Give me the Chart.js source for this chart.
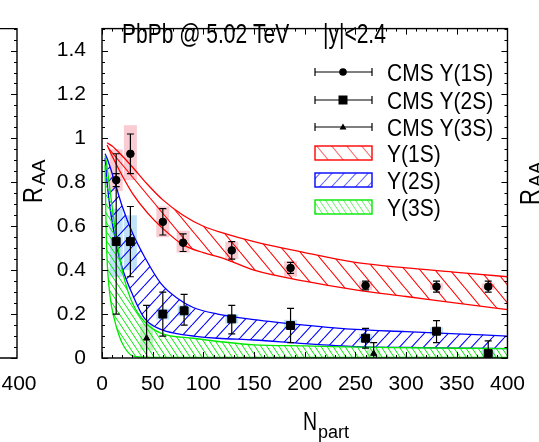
<!DOCTYPE html>
<html><head><meta charset="utf-8">
<script src="https://cdn.jsdelivr.net/npm/chart.js@4/dist/chart.umd.min.js"></script>
<style>html,body{margin:0;padding:0;background:#fff;}#wrap{width:539px;height:442px;}</style>
</head><body><div id="wrap"><canvas id="c" width="539" height="442"></canvas></div>
<script>
const FONT = '"Liberation Sans", Arial, sans-serif';

// ---- tick labels ----
const xTicks = [0, 50, 100, 150, 200, 250, 300, 350, 400];
const yTicks = [0, 0.2, 0.4, 0.6, 0.8, 1, 1.2, 1.4];

// ---- CMS data: Y(1S) ----
const npart1S  = [14, 28, 60, 80, 128, 186, 260, 330, 381];
const raa1S    = [0.81, 0.93, 0.62, 0.525, 0.49, 0.41, 0.33, 0.325, 0.325];
const stat1SLo = [0.78, 0.84, 0.56, 0.485, 0.45, 0.385, 0.31, 0.30, 0.30];
const stat1SHi = [0.84, 1.02, 0.68, 0.565, 0.53, 0.435, 0.35, 0.35, 0.35];
const sys1SLo  = [0.76, 0.81, 0.55, 0.48, 0.45, 0.37, 0.31, 0.31, 0.31];
const sys1SHi  = [0.95, 1.06, 0.69, 0.58, 0.53, 0.44, 0.35, 0.34, 0.34];

// ---- CMS data: Y(2S) ----
const npart2S  = [14, 28, 60, 81, 128, 186, 260, 330, 381];
const raa2S    = [0.53, 0.53, 0.20, 0.215, 0.178, 0.148, 0.09, 0.122, 0.02];
const stat2SLo = [0.20, 0.37, 0.10, 0.15, 0.11, 0.07, 0.045, 0.07, -0.01];
const stat2SHi = [0.93, 0.69, 0.30, 0.29, 0.24, 0.226, 0.135, 0.17, 0.078];
const sys2SLo  = [0.37, 0.40, 0.175, 0.19, 0.157, 0.13, 0.07, 0.104, 0.0];
const sys2SHi  = [0.68, 0.65, 0.225, 0.24, 0.20, 0.174, 0.11, 0.14, 0.04];

// ---- CMS data: Y(3S) ----
const npart3S  = [44, 268];
const raa3S    = [0.09, 0.02];
const stat3SLo = [-0.06, -0.03];
const stat3SHi = [0.24, 0.07];
const sys3SLo  = [0.035, 0.0];
const sys3SHi  = [0.157, 0.04];

// ---- theory bands ----
const band1SX  = [5, 10, 20, 30, 45, 60, 80, 100, 119, 150, 200, 250, 300, 350, 400];
const band1SHi = [0.98, 0.965, 0.92, 0.87, 0.79, 0.72, 0.65, 0.60, 0.57, 0.53, 0.48, 0.435, 0.41, 0.39, 0.37];
const band1SLo = [0.97, 0.92, 0.83, 0.75, 0.66, 0.59, 0.515, 0.48, 0.455, 0.40, 0.35, 0.31, 0.28, 0.25, 0.22];

const band2SX  = [3, 5, 8, 14, 20, 30, 42, 58, 75, 90, 114, 150, 200, 250, 300, 350, 400];
const band2SHi = [0.93, 0.91, 0.87, 0.78, 0.69, 0.57, 0.46, 0.34, 0.27, 0.23, 0.20, 0.175, 0.15, 0.13, 0.12, 0.11, 0.10];
const band2SLo = [0.91, 0.80, 0.68, 0.52, 0.41, 0.29, 0.18, 0.13, 0.11, 0.10, 0.09, 0.082, 0.065, 0.052, 0.048, 0.045, 0.043];

const band3SX  = [3, 4, 5, 8, 12, 17, 22, 30, 42, 58, 90, 150, 200, 269, 400];
const band3SHi = [0.92, 0.90, 0.87, 0.76, 0.62, 0.47, 0.36, 0.25, 0.165, 0.113, 0.09, 0.06, 0.055, 0.048, 0.043];
const band3SLo = [0.88, 0.60, 0.45, 0.28, 0.18, 0.10, 0.05, 0.01, 0.004, 0.003, 0.003, 0.003, 0.003, 0.003, 0.003];

const legendLabels = ['CMS Y(1S)', 'CMS Y(2S)', 'CMS Y(3S)', 'Y(1S)', 'Y(2S)', 'Y(3S)'];

// ---- helpers ----
const canvas = document.getElementById('c');
const mainCtx = canvas.getContext('2d');
function hatch(color, w, h, dir, lw) {
  const t = document.createElement('canvas'); t.width = w; t.height = h;
  const g = t.getContext('2d');
  g.strokeStyle = color; g.lineWidth = lw; g.beginPath();
  for (let k = -1; k <= 1; k++) {
    if (dir > 0) { g.moveTo(k * w, 0); g.lineTo(k * w + w, h); }
    else { g.moveTo(k * w, h); g.lineTo(k * w + w, 0); }
  }
  g.stroke();
  return mainCtx.createPattern(t, 'repeat');
}
const RED = '#ff0000', BLUE = '#0000ff', GREEN = '#00e800';
const pat1 = hatch(RED, 15, 18, 1, 1.1);
const pat2 = hatch(BLUE, 12, 13, -1, 1.1);
const pat3 = hatch(GREEN, 6, 9, 1, 1.0);

const pts = (xs, ys) => xs.map((x, i) => ({ x: x, y: ys[i] }));

function bandPair(xs, lo, hi, color, pat, ord) {
  return [
    { data: pts(xs, lo), borderColor: color, borderWidth: 1.3, pointRadius: 0, fill: false, cubicInterpolationMode: 'monotone', order: ord },
    { data: pts(xs, hi), borderColor: color, borderWidth: 1.3, pointRadius: 0, fill: '-1', backgroundColor: pat, cubicInterpolationMode: 'monotone', order: ord }
  ];
}

const series = [
  { n: npart1S, lo: stat1SLo, hi: stat1SHi, slo: sys1SLo, shi: sys1SHi, box: 'rgba(240,120,140,0.38)' },
  { n: npart2S, lo: stat2SLo, hi: stat2SHi, slo: sys2SLo, shi: sys2SHi, box: 'rgba(90,180,240,0.38)' },
  { n: npart3S, lo: stat3SLo, hi: stat3SHi, slo: sys3SLo, shi: sys3SHi, box: 'rgba(110,210,110,0.38)' }
];

const errPlugin = {
  id: 'err',
  beforeDatasetsDraw(chart) {
    const { ctx, chartArea: a, scales: { x, y } } = chart;
    ctx.save(); ctx.beginPath(); ctx.rect(a.left, a.top, a.right - a.left, a.bottom - a.top); ctx.clip();
    series.forEach(s => {
      ctx.fillStyle = s.box;
      s.n.forEach((n, i) => {
        const px = x.getPixelForValue(n), y1 = y.getPixelForValue(s.shi[i]), y2 = y.getPixelForValue(s.slo[i]);
        ctx.fillRect(px - 6.5, y1, 13, y2 - y1);
      });
    });
    ctx.restore();
  },
  afterDatasetsDraw(chart) {
    const { ctx, chartArea: a, scales: { x, y } } = chart;
    ctx.save(); ctx.beginPath(); ctx.rect(a.left, a.top, a.right - a.left, a.bottom - a.top); ctx.clip();
    ctx.strokeStyle = '#000'; ctx.lineWidth = 1.2;
    series.forEach(s => {
      s.n.forEach((n, i) => {
        const px = x.getPixelForValue(n), y1 = y.getPixelForValue(s.hi[i]), y2 = y.getPixelForValue(s.lo[i]);
        ctx.beginPath();
        ctx.moveTo(px, y1); ctx.lineTo(px, y2);
        ctx.moveTo(px - 3.5, y1); ctx.lineTo(px + 3.5, y1);
        ctx.moveTo(px - 3.5, y2); ctx.lineTo(px + 3.5, y2);
        ctx.stroke();
      });
    });
    ctx.restore();
  }
};

// text drawn with an optional vertical stretch (glyphs in the reference are tall)
function txt(ctx, s, x, y, size, sy, rot) {
  ctx.save(); ctx.translate(x, y);
  if (rot) ctx.rotate(-Math.PI / 2);
  ctx.scale(1, sy);
  ctx.font = size + 'px ' + FONT; ctx.textAlign = 'left'; ctx.textBaseline = 'alphabetic';
  ctx.fillText(s, 0, 0); ctx.restore();
}

const decoPlugin = {
  id: 'deco',
  afterDraw(chart) {
    const { ctx, chartArea: a, scales: { x, y } } = chart;
    ctx.save();
    ctx.strokeStyle = '#000'; ctx.lineWidth = 1.4;
    ctx.strokeRect(a.left, a.top, a.right - a.left, a.bottom - a.top);
    ctx.lineWidth = 1;
    ctx.beginPath();
    for (let v = 0; v <= 400; v += 10) {
      const px = Math.round(x.getPixelForValue(v)) + 0.5;
      const L = (v % 50 === 0) ? 6 : 3;
      ctx.moveTo(px, a.bottom); ctx.lineTo(px, a.bottom - L);
      ctx.moveTo(px, a.top); ctx.lineTo(px, a.top + L);
    }
    for (let k = 0; k <= 30; k++) {
      const v = k * 0.05;
      const py = Math.round(y.getPixelForValue(v)) + 0.5;
      const L = (k % 4 === 0) ? 6 : 3;
      ctx.moveTo(a.left, py); ctx.lineTo(a.left + L, py);
      ctx.moveTo(a.right, py); ctx.lineTo(a.right - L, py);
      ctx.moveTo(17, py); ctx.lineTo(17 - L, py);
    }
    ctx.stroke();
    ctx.lineWidth = 1.4;
    ctx.beginPath();
    ctx.moveTo(0, a.top); ctx.lineTo(17, a.top); ctx.lineTo(17, a.bottom); ctx.lineTo(0, a.bottom);
    ctx.stroke();

    ctx.fillStyle = '#000';
    ctx.font = '21px ' + FONT; ctx.textAlign = 'center'; ctx.textBaseline = 'middle';
    ctx.fillText('400', 19, 384);

    // title
    txt(ctx, 'PbPb @ 5.02 TeV', 122, 43, 21, 1.3, false);
    txt(ctx, '|y|<2.4', 323, 43, 21, 1.3, false);

    // axis titles
    txt(ctx, 'N', 303, 430, 19.5, 1.3, false);
    txt(ctx, 'part', 318, 438, 18, 1.0, false);
    txt(ctx, 'R', 42, 203, 22, 1.25, true);
    txt(ctx, 'AA', 45, 185, 19, 1.0, true);
    txt(ctx, 'R', 539, 205, 22, 1.25, true);
    txt(ctx, 'AA', 542, 187, 19, 1.0, true);

    // legend
    const rows = [72, 100, 127, 153, 180, 207];
    const x0 = 315, x1 = 372, xc = 343;
    rows.forEach((ry, i) => {
      ctx.strokeStyle = '#000'; ctx.lineWidth = 1.2;
      if (i < 3) {
        ctx.beginPath();
        ctx.moveTo(x0, ry); ctx.lineTo(x1, ry);
        ctx.moveTo(x0, ry - 4); ctx.lineTo(x0, ry + 4);
        ctx.moveTo(x1, ry - 4); ctx.lineTo(x1, ry + 4);
        ctx.stroke();
        ctx.fillStyle = '#000';
        ctx.beginPath();
        if (i === 0) { ctx.arc(xc, ry, 3.8, 0, Math.PI * 2); ctx.fill(); }
        else if (i === 1) { ctx.fillRect(xc - 4.5, ry - 4.5, 9, 9); }
        else { ctx.moveTo(xc, ry - 3.5); ctx.lineTo(xc + 3.5, ry + 2.5); ctx.lineTo(xc - 3.5, ry + 2.5); ctx.closePath(); ctx.fill(); }
      } else {
        const col = [RED, BLUE, GREEN][i - 3];
        const p = [pat1, pat2, pat3][i - 3];
        ctx.fillStyle = p; ctx.globalAlpha = 0.6;
        ctx.fillRect(x0, ry - 7, x1 - x0, 14);
        ctx.globalAlpha = 1;
        ctx.strokeStyle = col; ctx.lineWidth = 1.4;
        ctx.strokeRect(x0, ry - 7, x1 - x0, 14);
      }
      ctx.fillStyle = '#000';
      txt(ctx, legendLabels[i], 387, ry + 8.5, 21, 1.1, false);
    });
    ctx.restore();
  }
};

new Chart(canvas, {
  type: 'line',
  data: {
    datasets: [
      { data: pts(npart1S, raa1S), showLine: false, pointStyle: 'circle', pointRadius: 3.8, pointBackgroundColor: '#000', pointBorderColor: '#000', order: 0 },
      { data: pts(npart2S, raa2S), showLine: false, pointStyle: 'rect', pointRadius: 5.6, pointBackgroundColor: '#000', pointBorderColor: '#000', order: 0 },
      { data: pts(npart3S, raa3S), showLine: false, pointStyle: 'triangle', pointRadius: 3.5, pointBackgroundColor: '#000', pointBorderColor: '#000', order: 0 },
      ...bandPair(band1SX, band1SLo, band1SHi, RED, pat1, 3),
      ...bandPair(band2SX, band2SLo, band2SHi, BLUE, pat2, 2),
      ...bandPair(band3SX, band3SLo, band3SHi, GREEN, pat3, 1)
    ]
  },
  options: {
    responsive: false, animation: false, devicePixelRatio: 1,
    layout: { padding: { left: 0, right: 26, top: 12, bottom: 0 } },
    plugins: { legend: { display: false }, tooltip: { enabled: false } },
    scales: {
      x: {
        type: 'linear', min: 0, max: 400,
        grid: { display: false, drawTicks: false }, border: { display: false },
        afterBuildTicks: s => { s.ticks = xTicks.map(v => ({ value: v })); },
        afterFit: s => { s.height = 84; },
        ticks: { color: '#000', padding: 14, maxRotation: 0, font: { family: FONT, size: 21 }, callback: v => String(v) }
      },
      y: {
        type: 'linear', min: 0, max: 1.5,
        grid: { display: false, drawTicks: false }, border: { display: false },
        afterBuildTicks: s => { s.ticks = yTicks.map(v => ({ value: v })); },
        afterFit: s => { s.width = 102; },
        ticks: { color: '#000', padding: 16, font: { family: FONT, size: 21 }, callback: v => String(v) }
      }
    }
  },
  plugins: [errPlugin, decoPlugin]
});
</script>
</body></html>
